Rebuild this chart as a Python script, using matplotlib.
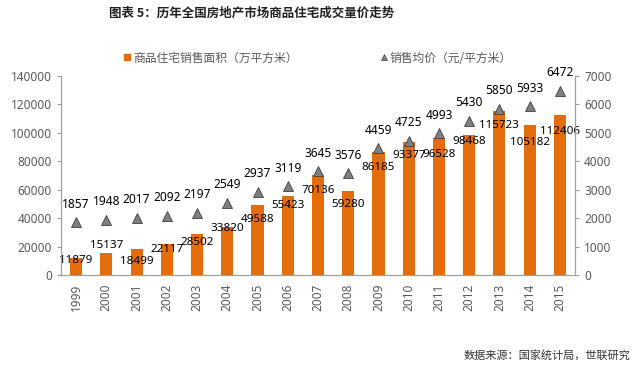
import matplotlib
matplotlib.use("Agg")
import matplotlib.pyplot as plt
from matplotlib.lines import Line2D

plt.rcParams['font.family'] = ['Noto Sans', 'Noto Sans CJK SC', 'DejaVu Sans']

years = ['1999', '2000', '2001', '2002', '2003', '2004', '2005', '2006', '2007',
         '2008', '2009', '2010', '2011', '2012', '2013', '2014', '2015']
area = [11879, 15137, 18499, 22117, 28502, 33820, 49588, 55423, 70136,
        59280, 86185, 93377, 96528, 98468, 115723, 105182, 112406]
price = [1857, 1948, 2017, 2092, 2197, 2549, 2937, 3119, 3645,
         3576, 4459, 4725, 4993, 5430, 5850, 5933, 6472]

# label vertical offsets (points) relative to bar tops, as placed in the original
area_label_dy = [-1.5, 5.5, -9.5, -4.5, -5.5, -1, -10.5, -7, -11,
                 -10, -10.5, -9.5, -12, -4.5, -10.5, -12, -12]

ORANGE = '#E46C0A'
GREY = '#7F7F7F'
TICKC = '#595959'

fig = plt.figure(figsize=(6.4, 3.69), dpi=100)
ax = fig.add_axes([61/640, 1-275/369, (575-61)/640, (275-76)/369])
ax2 = ax.twinx()

x = list(range(len(years)))
ax.bar(x, area, width=0.4, color=ORANGE, zorder=2)
ax.set_xlim(-0.5, len(years)-0.5)
ax.set_ylim(0, 140000)
ax.set_yticks(range(0, 140001, 20000))
ax.set_xticks(x)
ax.set_xticklabels(years, rotation=90, fontsize=8.5, color=TICKC)
ax.tick_params(axis='x', length=0, pad=6)
ax.tick_params(axis='y', labelsize=8.5, labelcolor=TICKC, color='#A0A0A0', length=3)

ax2.plot(x, price, linestyle='none', marker='^', markersize=7,
         markerfacecolor=GREY, markeredgecolor='#404040', markeredgewidth=0.6, zorder=3)
ax2.set_ylim(0, 7000)
ax2.set_yticks(range(0, 7001, 1000))
ax2.tick_params(axis='y', labelsize=8.5, labelcolor=TICKC, color='#A0A0A0', length=3)

for a in (ax, ax2):
    a.spines['top'].set_visible(False)
    for s in ('left', 'right', 'bottom'):
        a.spines[s].set_color('#A0A0A0')

for xi, v, dy in zip(x, area, area_label_dy):
    ax.annotate(str(v), (xi, v), xytext=(0, dy), textcoords='offset points',
                ha='center', va='center', fontsize=8.4, fontweight='bold', color='black', zorder=5)
for xi, v in zip(x, price):
    ax2.annotate(str(v), (xi, v), xytext=(0, 13), textcoords='offset points',
                 ha='center', va='center', fontsize=8.6, fontweight='bold', color='black', zorder=5)

handles = [Line2D([], [], linestyle='none', marker='s', markersize=4,
                  markerfacecolor=ORANGE, markeredgecolor=ORANGE),
           Line2D([], [], linestyle='none', marker='^', markersize=5,
                  markerfacecolor=GREY, markeredgecolor='#404040', markeredgewidth=0.5)]
labels = ['商品住宅销售面积（万平方米）', '销售均价（元/平方米）']
leg = fig.legend(handles, labels, loc='center', bbox_to_anchor=(318/640, 1-58/369),
                 ncol=2, frameon=False, columnspacing=7.0,
                 handlelength=0.6, handletextpad=0.2, prop={'family': ['Noto Sans CJK SC'], 'size': 8.5})
for t in leg.get_texts():
    t.set_color(TICKC)

fig.text(252/640, 1-13/369, '图表 5：历年全国房地产市场商品住宅成交量价走势',
         ha='center', va='center', fontsize=9, fontweight='bold',
         family=['Noto Sans CJK SC'], color='#222222')
fig.text(630/640, 1-355/369, '数据来源：国家统计局，世联研究',
         ha='right', va='center', fontsize=8, family=['Noto Sans CJK SC'], color='#333333')

fig.savefig('out.png', dpi=100)
